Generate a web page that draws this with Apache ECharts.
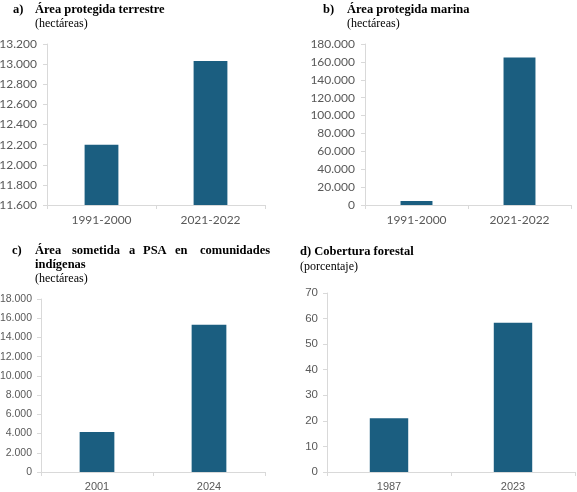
<!DOCTYPE html>
<html>
<head>
<meta charset="utf-8">
<script src="https://cdn.jsdelivr.net/npm/echarts@6/dist/echarts.min.js"></script>
<style>
  html, body { margin: 0; padding: 0; background: #fff; }
  #chart { width: 577px; height: 492px; }
</style>
</head>
<body>
<div id="chart"></div>
<script>
// data for the four panels
var catsA = ['1991-2000', '2021-2022'];
var valsA = [12200, 13030];
var catsB = ['1991-2000', '2021-2022'];
var valsB = [4500, 165000];
var catsC = ['2001', '2024'];
var valsC = [4150, 15320];
var catsD = ['1987', '2023'];
var valsD = [21, 58.4];

var barColor = '#1b5e80';
var axisGray = '#d9d9d9';
var labelGray = '#595959';

function thousands(v) {
    return String(v).replace(/\B(?=(\d{3})+(?!\d))/g, '.');
}

function xAxisFor(idx, cats, font, size) {
    return {
        type: 'category',
        gridIndex: idx,
        data: cats,
        axisLine: { lineStyle: { color: axisGray, width: 1 } },
        axisTick: { show: true, length: 4, lineStyle: { color: axisGray } },
        axisLabel: { color: labelGray, fontFamily: font, fontSize: size, margin: 9 }
    };
}

function yAxisFor(idx, min, max, interval, font, size, margin) {
    return {
        type: 'value',
        gridIndex: idx,
        min: min,
        max: max,
        interval: interval,
        splitLine: { show: false },
        axisLine: { show: true, lineStyle: { color: axisGray, width: 1 } },
        axisTick: { show: true, length: 4, lineStyle: { color: axisGray } },
        axisLabel: { color: labelGray, fontFamily: font, fontSize: size, margin: margin, formatter: thousands }
    };
}

function serie(idx, vals) {
    return {
        type: 'bar',
        xAxisIndex: idx,
        yAxisIndex: idx,
        data: vals,
        barWidth: '31%',
        itemStyle: { color: barColor },
        animation: false
    };
}

var serifBold = { fontFamily: 'Liberation Serif', fontWeight: 'bold', fontSize: 12.5, fill: '#000' };
var serifReg = { fontFamily: 'Liberation Serif', fontWeight: 'normal', fontSize: 12, fill: '#000' };

function txt(x, y, text, st) {
    return {
        type: 'text', x: x, y: y,
        style: Object.assign({ text: text, textVerticalAlign: 'middle' }, st)
    };
}

var titleWordsC = ['Área', 'sometida', 'a', 'PSA', 'en', 'comunidades'];
var wordXC = [35, 72, 129, 143, 175, 200];

var graphics = [
    txt(13, 10, 'a)', serifBold),
    txt(35, 10, 'Área protegida terrestre', serifBold),
    txt(35, 24, '(hectáreas)', serifReg),
    txt(323, 10, 'b)', serifBold),
    txt(347, 10, 'Área protegida marina', serifBold),
    txt(347, 24, '(hectáreas)', serifReg),
    txt(12, 251, 'c)', serifBold),
    txt(35, 265, 'indígenas', serifBold),
    txt(35, 279, '(hectáreas)', serifReg),
    txt(300, 252, 'd) Cobertura forestal', serifBold),
    txt(300, 267, '(porcentaje)', serifReg)
];
for (var i = 0; i < titleWordsC.length; i++) {
    graphics.push(txt(wordXC[i], 251, titleWordsC[i], serifBold));
}

var option = {
    backgroundColor: '#fff',
    animation: false,
    grid: [
        { left: 47, top: 44, width: 218, height: 161, outerBoundsMode: 'none', containLabel: false },
        { left: 365, top: 44, width: 206, height: 161, outerBoundsMode: 'none', containLabel: false },
        { left: 41, top: 299, width: 224, height: 173, outerBoundsMode: 'none', containLabel: false },
        { left: 327, top: 293, width: 248, height: 179, outerBoundsMode: 'none', containLabel: false }
    ],
    xAxis: [
        xAxisFor(0, catsA, 'Lato', 12),
        xAxisFor(1, catsB, 'Lato', 12),
        xAxisFor(2, catsC, 'Liberation Sans', 11),
        xAxisFor(3, catsD, 'Liberation Sans', 11)
    ],
    yAxis: [
        yAxisFor(0, 11600, 13200, 200, 'Lato', 12, 10),
        yAxisFor(1, 0, 180000, 20000, 'Lato', 12, 10),
        yAxisFor(2, 0, 18000, 2000, 'Liberation Sans', 10.5, 9),
        yAxisFor(3, 0, 70, 10, 'Liberation Sans', 11.5, 9)
    ],
    series: [
        serie(0, valsA),
        serie(1, valsB),
        serie(2, valsC),
        serie(3, valsD)
    ],
    graphic: graphics
};

var chart = echarts.init(document.getElementById('chart'), null, { renderer: 'canvas' });
chart.setOption(option);
</script>
</body>
</html>
